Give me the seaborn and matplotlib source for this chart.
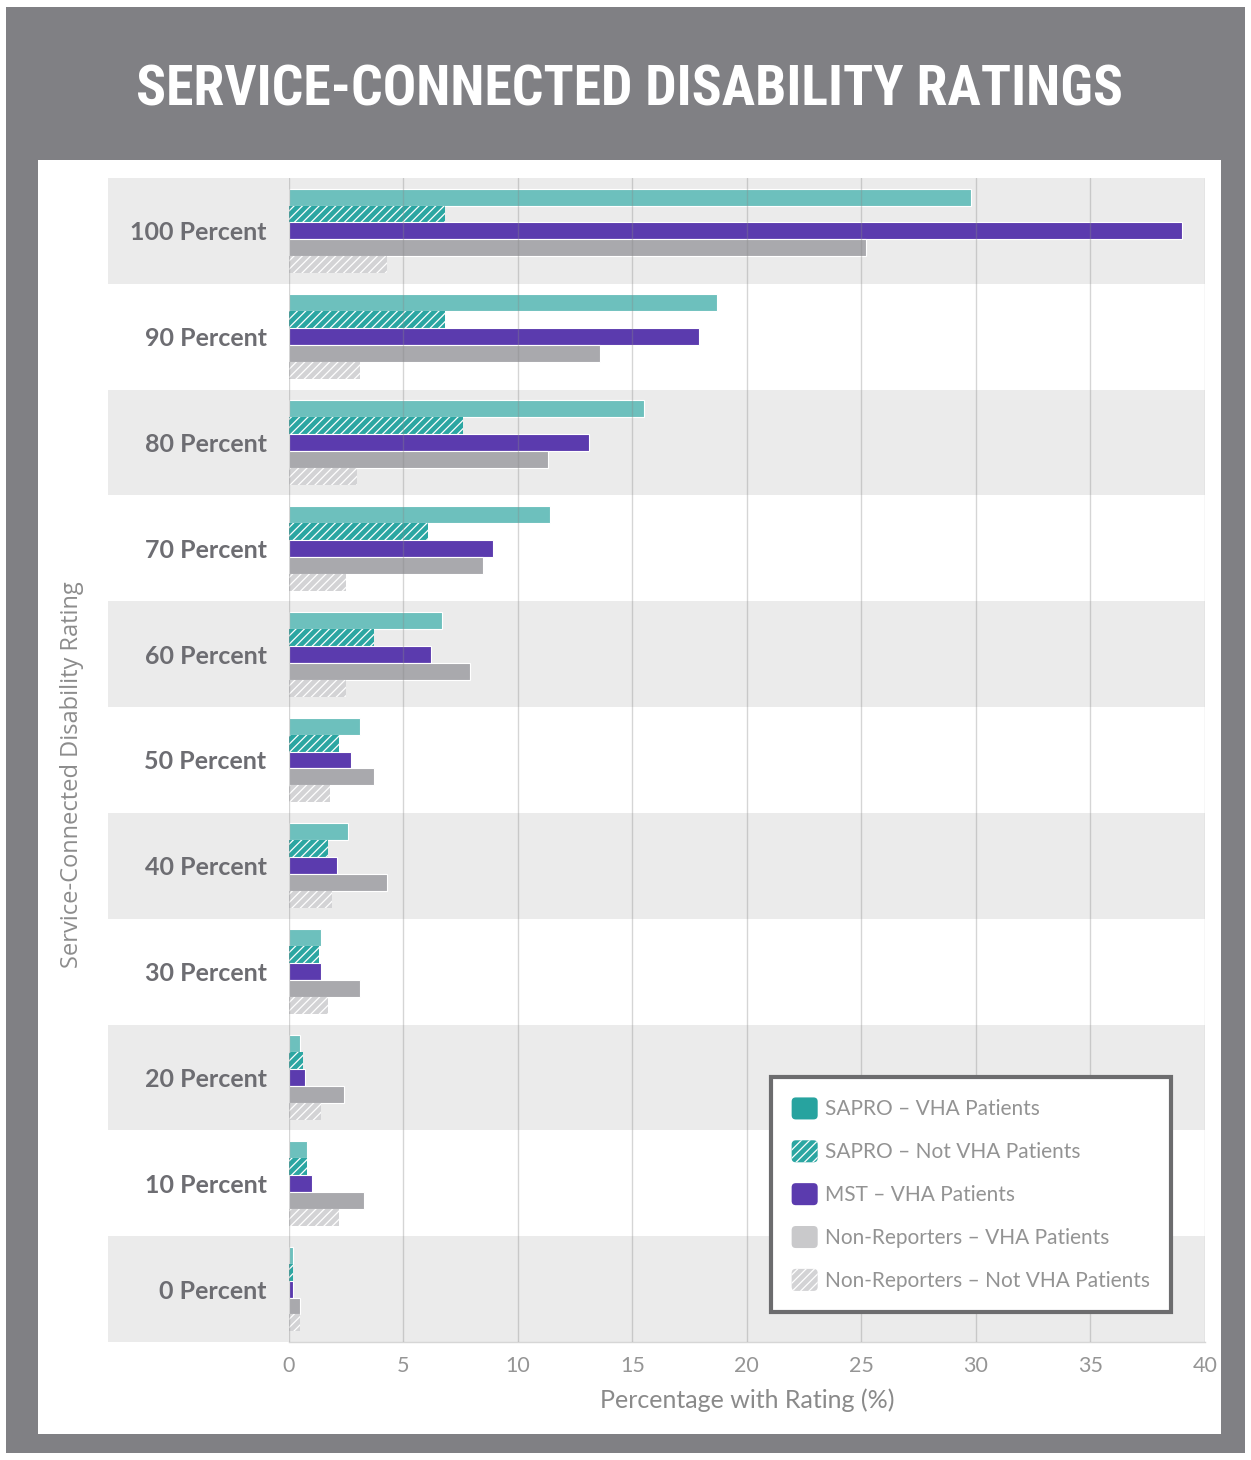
import matplotlib
matplotlib.use("Agg")
import matplotlib.pyplot as plt
import matplotlib.patches as mpatches
from matplotlib.legend_handler import HandlerPatch
from matplotlib import font_manager
import seaborn as sns
import pandas as pd

# Disability rating categories, top to bottom
ratings = ["100 Percent", "90 Percent", "80 Percent", "70 Percent", "60 Percent",
           "50 Percent", "40 Percent", "30 Percent", "20 Percent", "10 Percent",
           "0 Percent"]

# Percentage of each group holding each rating
sapro_vha = [29.8, 18.7, 15.5, 11.4, 6.7, 3.1, 2.6, 1.4, 0.5, 0.8, 0.2]
sapro_not_vha = [6.8, 6.8, 7.6, 6.1, 3.7, 2.2, 1.7, 1.3, 0.6, 0.8, 0.2]
mst_vha = [39.0, 17.9, 13.1, 8.9, 6.2, 2.7, 2.1, 1.4, 0.7, 1.0, 0.2]
nonrep_vha = [25.2, 13.6, 11.3, 8.5, 7.9, 3.7, 4.3, 3.1, 2.4, 3.3, 0.5]
nonrep_not_vha = [4.3, 3.1, 3.0, 2.5, 2.5, 1.8, 1.9, 1.7, 1.4, 2.2, 0.5]

groups = ["SAPRO – VHA Patients", "SAPRO – Not VHA Patients", "MST – VHA Patients",
          "Non-Reporters – VHA Patients", "Non-Reporters – Not VHA Patients"]
series = [sapro_vha, sapro_not_vha, mst_vha, nonrep_vha, nonrep_not_vha]

bar_colors = ["#6dc0bd", "#2ba6a2", "#5b3bae", "#a9a9ad", "#d3d3d5"]
swatch_colors = ["#27a39f", "#2ba6a2", "#5b3bae", "#c9c9cb", "#d3d3d5"]
hatched = [False, True, False, False, True]

df = pd.DataFrame({
    "rating": [r for _ in groups for r in ratings],
    "group": [g for g in groups for _ in ratings],
    "pct": [v for s in series for v in s],
})

sns.set_theme(style="white")
plt.rcParams["font.family"] = ["Lato", "DejaVu Sans"]
plt.rcParams["hatch.linewidth"] = 0.9


def pick_font(candidates):
    for name in candidates:
        try:
            font_manager.findfont(font_manager.FontProperties(family=name),
                                  fallback_to_default=False)
            return name
        except Exception:
            continue
    return "DejaVu Sans"


class RoundedSwatch(HandlerPatch):
    """Legend key drawn as a small rounded square."""

    def create_artists(self, legend, orig_handle, xdescent, ydescent,
                       width, height, fontsize, trans):
        box = mpatches.FancyBboxPatch(
            (-xdescent, -ydescent), width, height,
            boxstyle=mpatches.BoxStyle("Round", pad=0, rounding_size=3),
            facecolor=orig_handle.get_facecolor(), edgecolor="white",
            linewidth=0, hatch=orig_handle.get_hatch(), transform=trans)
        return [box]


title_font = pick_font(["Liberation Sans Narrow", "Roboto Condensed", "Open Sans Condensed",
                        "Liberation Sans"])

W, H = 1251, 1460
fig = plt.figure(figsize=(W / 100, H / 100), dpi=100)
fig.patch.set_facecolor("white")

# Grey frame and white chart panel, kept beneath the axes
fig.add_artist(mpatches.Rectangle((6 / W, 1 - 1453 / H), (1245 - 6) / W, (1453 - 7) / H,
                                  transform=fig.transFigure, facecolor="#808084",
                                  edgecolor="none", zorder=-3))
fig.add_artist(mpatches.Rectangle((38 / W, 1 - 1434 / H), (1221 - 38) / W, (1434 - 160) / H,
                                  transform=fig.transFigure, facecolor="white",
                                  edgecolor="none", zorder=-2))

title = fig.text(630 / W, 1 - 90 / H, "SERVICE-CONNECTED DISABILITY RATINGS",
                 ha="center", va="center", color="white", fontsize=46,
                 fontweight="bold", family=[title_font, "DejaVu Sans"],
                 fontstretch="condensed")

# Shrink the title until it fits its band
fig.canvas.draw()
tw = title.get_window_extent().width
if tw > 990:
    title.set_fontsize(46 * 986 / tw)

left, right = 288.8 / W, 1204.7 / W
top, bottom = 1 - 178 / H, 1 - 1342 / H
ax = fig.add_axes([left, bottom, right - left, top - bottom])
ax.set_facecolor("none")

sns.barplot(data=df, y="rating", x="pct", hue="group", order=ratings,
            hue_order=groups, palette=dict(zip(groups, bar_colors)),
            orient="h", errorbar=None, width=0.8, legend=False, ax=ax,
            saturation=1, zorder=2)

for cont, hat in zip(ax.containers, hatched):
    for p in cont.patches:
        p.set_edgecolor("white")
        p.set_linewidth(0.8 if not hat else 0)
        if hat:
            p.set_hatch("////")

ax.set_xlim(0, 40)
ax.set_ylim(len(ratings) - 0.5, -0.5)

# Alternating row bands, reaching out under the category labels
band_left = (108 - 288.8) / (1204.7 - 288.8)
trans = matplotlib.transforms.blended_transform_factory(ax.transAxes, ax.transData)
for i in range(len(ratings)):
    if i % 2 == 0:
        ax.add_patch(mpatches.Rectangle((band_left, i - 0.5), 1 - band_left, 1.0,
                                        transform=trans, facecolor="#ebebeb",
                                        edgecolor="none", zorder=0, clip_on=False))

ax.set_xticks(range(0, 41, 5))
ax.xaxis.grid(True, color="#888888", alpha=0.35, linewidth=1, zorder=3)
ax.yaxis.grid(False)
ax.set_axisbelow(False)
for s in ["top", "right", "left"]:
    ax.spines[s].set_visible(False)
ax.spines["bottom"].set_color("#d6d6d6")
ax.spines["bottom"].set_linewidth(1)

ax.tick_params(axis="both", length=0)
ax.tick_params(axis="y", pad=16)
ax.tick_params(axis="x", pad=10)
for lab in ax.get_yticklabels():
    lab.set_fontsize(18)
    lab.set_fontweight("bold")
    lab.set_color("#6d6d72")
for lab in ax.get_xticklabels():
    lab.set_fontsize(15.5)
    lab.set_fontweight("normal")
    lab.set_color("#959595")

ax.set_xlabel("Percentage with Rating (%)", fontsize=18, color="#8a8a8a", labelpad=9)
ax.set_ylabel("Service-Connected Disability Rating", fontsize=17, color="#8c8c8c",
              family=["Open Sans", "DejaVu Sans"])
ax.yaxis.set_label_coords((84 - 288.8) / (1204.7 - 288.8), (1342 - 775) / 1164)

handles = []
for c, hat in zip(swatch_colors, hatched):
    handles.append(mpatches.Patch(facecolor=c, edgecolor="white", linewidth=0,
                                  hatch="////" if hat else None))
leg = ax.legend(handles, groups, loc="lower right",
                bbox_to_anchor=(0.963, 0.026), frameon=True, fancybox=False,
                framealpha=1, fontsize=15, handlelength=1.25, handleheight=1.25,
                labelspacing=1.0, handletextpad=0.35, borderpad=1.0,
                borderaxespad=0, labelcolor="#939393",
                handler_map={mpatches.Patch: RoundedSwatch()})
leg.get_frame().set_edgecolor("#6c6c6e")
leg.get_frame().set_linewidth(3)
leg.set_zorder(5)

fig.savefig("out.png", dpi=100)
